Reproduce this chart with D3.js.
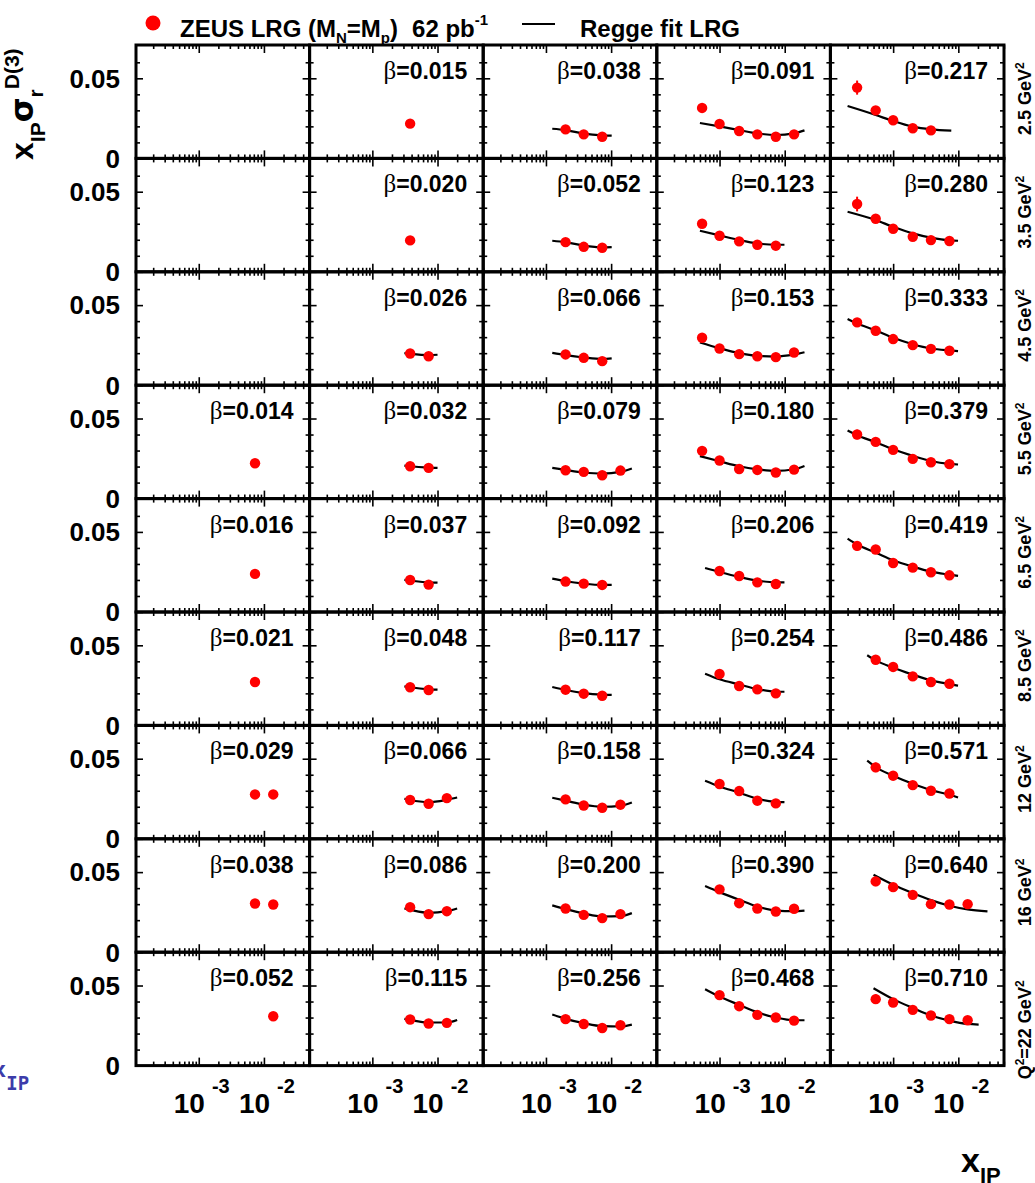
<!DOCTYPE html>
<html>
<head>
<meta charset="utf-8">
<script src="https://cdn.jsdelivr.net/npm/d3@7"></script>
<style>
body { margin: 0; background: #fff; }
text { font-family: "Liberation Sans", Arial, Helvetica, sans-serif; font-weight: bold; }
</style>
</head>
<body>
<div class="canvas"></div>
<script>
// x_IP bins used by the measurement
const xipBins = [0.00028, 0.00054, 0.001, 0.002, 0.0038, 0.0073, 0.0139];

// Q^2 of each row (GeV^2)
const q2Labels = ['2.5', '3.5', '4.5', '5.5', '6.5', '8.5', '12', '16', '22'];

// beta of each panel (null = empty panel)
const betaValues = [
    [null, 0.015, 0.038, 0.091, 0.217],
    [null, 0.020, 0.052, 0.123, 0.280],
    [null, 0.026, 0.066, 0.153, 0.333],
    [0.014, 0.032, 0.079, 0.180, 0.379],
    [0.016, 0.037, 0.092, 0.206, 0.419],
    [0.021, 0.048, 0.117, 0.254, 0.486],
    [0.029, 0.066, 0.158, 0.324, 0.571],
    [0.038, 0.086, 0.200, 0.390, 0.640],
    [0.052, 0.115, 0.256, 0.468, 0.710]
];

// index of the first x_IP bin of each panel
const firstBin = [
    [0, 4, 3, 1, 0],
    [0, 4, 3, 1, 0],
    [0, 4, 3, 1, 0],
    [5, 4, 3, 1, 0],
    [5, 4, 3, 2, 0],
    [5, 4, 3, 2, 1],
    [5, 4, 3, 2, 1],
    [5, 4, 3, 2, 1],
    [6, 4, 3, 2, 1]
];

// x_IP sigma_r^D(3), ZEUS LRG points
const sigmaValues = [
    [[], [0.0217], [0.0181, 0.0150, 0.0135], [0.0315, 0.0215, 0.0171, 0.0150, 0.0135, 0.0150], [0.0442, 0.0300, 0.0238, 0.0188, 0.0175]],
    [[], [0.0196], [0.0185, 0.0156, 0.0150], [0.0300, 0.0225, 0.0190, 0.0169, 0.0163], [0.0423, 0.0331, 0.0269, 0.0219, 0.0198, 0.0192]],
    [[], [0.0198, 0.0181], [0.0192, 0.0171, 0.0150], [0.0296, 0.0229, 0.0194, 0.0181, 0.0175, 0.0204], [0.0392, 0.0340, 0.0288, 0.0250, 0.0227, 0.0215]],
    [[0.0221], [0.0202, 0.0192], [0.0177, 0.0167, 0.0146, 0.0175], [0.0298, 0.0238, 0.0185, 0.0179, 0.0163, 0.0181], [0.0400, 0.0354, 0.0304, 0.0248, 0.0227, 0.0215]],
    [[0.0238], [0.0200, 0.0171], [0.0190, 0.0177, 0.0169], [0.0256, 0.0225, 0.0185, 0.0175], [0.0413, 0.0390, 0.0306, 0.0277, 0.0248, 0.0229]],
    [[0.0271], [0.0238, 0.0221], [0.0223, 0.0198, 0.0185], [0.0321, 0.0246, 0.0225, 0.0200], [0.0410, 0.0365, 0.0306, 0.0271, 0.0260]],
    [[0.0277, 0.0277], [0.0242, 0.0219, 0.0254], [0.0246, 0.0208, 0.0194, 0.0213], [0.0342, 0.0298, 0.0238, 0.0221], [0.0446, 0.0394, 0.0335, 0.0300, 0.0283]],
    [[0.0304, 0.0298], [0.0281, 0.0238, 0.0256], [0.0273, 0.0233, 0.0213, 0.0238], [0.0392, 0.0306, 0.0273, 0.0254, 0.0271], [0.0442, 0.0406, 0.0358, 0.0300, 0.0298, 0.0300]],
    [[0.0308], [0.0288, 0.0263, 0.0267], [0.0290, 0.0260, 0.0235, 0.0252], [0.0440, 0.0371, 0.0317, 0.0300, 0.0281], [0.0415, 0.0394, 0.0348, 0.0313, 0.0290, 0.0283]]
];

// errors: only the lowest-x_IP point of the last column shows a bar
const errLastColumn = [0.0044, 0.0046, 0.0025, 0.0030, 0.0030, 0.0025, 0.0030, 0.0030, 0.0030];
const errDefault = 0.0015;

// Regge fit curves, [x_IP, value] nodes
const fitCurves = [
    [null, null,
     [[0.00125, 0.0185], [0.002, 0.0177], [0.0038, 0.0155], [0.0073, 0.0144], [0.0102, 0.0142]],
     [[0.0005, 0.0221], [0.001, 0.0200], [0.002, 0.0177], [0.0038, 0.0156], [0.0073, 0.0146], [0.0139, 0.0156], [0.0201, 0.0175]],
     [[0.0002, 0.0327], [0.00054, 0.0271], [0.001, 0.0233], [0.002, 0.0198], [0.0038, 0.0181], [0.0078, 0.0173]]],
    [null, null,
     [[0.00125, 0.0194], [0.002, 0.0185], [0.0038, 0.0163], [0.0073, 0.0152], [0.0102, 0.0154]],
     [[0.0005, 0.0256], [0.001, 0.0227], [0.002, 0.0198], [0.0038, 0.0177], [0.0073, 0.0169], [0.0099, 0.0169]],
     [[0.0002, 0.0375], [0.00054, 0.0323], [0.001, 0.0281], [0.002, 0.0240], [0.0038, 0.0213], [0.0073, 0.0196], [0.0099, 0.0194]]],
    [null,
     [[0.0031, 0.0200], [0.0038, 0.0196], [0.0073, 0.0188], [0.010, 0.0190]],
     [[0.00125, 0.0202], [0.002, 0.0188], [0.0038, 0.0173], [0.0073, 0.0163], [0.0102, 0.0167]],
     [[0.0005, 0.0267], [0.001, 0.0231], [0.002, 0.0200], [0.0038, 0.0183], [0.0073, 0.0179], [0.0139, 0.0192], [0.0201, 0.0206]],
     [[0.0002, 0.0413], [0.00028, 0.0385], [0.00054, 0.0342], [0.001, 0.0296], [0.002, 0.0256], [0.0038, 0.0229], [0.0073, 0.0217], [0.0099, 0.0213]]],
    [null,
     [[0.0031, 0.0206], [0.0038, 0.0202], [0.0073, 0.0194], [0.010, 0.0192]],
     [[0.00125, 0.0192], [0.002, 0.0179], [0.0038, 0.0163], [0.0073, 0.0156], [0.0139, 0.0167], [0.0208, 0.0188]],
     [[0.0005, 0.0265], [0.001, 0.0233], [0.002, 0.0202], [0.0038, 0.0183], [0.0073, 0.0173], [0.0139, 0.0183], [0.0201, 0.0204]],
     [[0.0002, 0.0425], [0.00028, 0.0396], [0.00054, 0.0352], [0.001, 0.0308], [0.002, 0.0267], [0.0038, 0.0235], [0.0073, 0.0217], [0.0099, 0.0213]]],
    [null,
     [[0.0031, 0.0200], [0.0038, 0.0196], [0.0073, 0.0185], [0.010, 0.0183]],
     [[0.00125, 0.0208], [0.002, 0.0192], [0.0038, 0.0177], [0.0073, 0.0169], [0.0102, 0.0169]],
     [[0.0006, 0.0275], [0.001, 0.0250], [0.002, 0.0219], [0.0038, 0.0196], [0.0073, 0.0185], [0.0099, 0.0185]],
     [[0.0002, 0.0458], [0.00028, 0.0421], [0.00054, 0.0371], [0.001, 0.0323], [0.002, 0.0283], [0.0038, 0.0252], [0.0073, 0.0233], [0.0099, 0.0225]]],
    [null,
     [[0.0031, 0.0244], [0.0038, 0.0238], [0.0073, 0.0225], [0.010, 0.0223]],
     [[0.00125, 0.0240], [0.002, 0.0221], [0.0038, 0.0202], [0.0073, 0.0192], [0.0102, 0.0190]],
     [[0.0006, 0.0323], [0.001, 0.0288], [0.002, 0.0256], [0.0038, 0.0227], [0.0073, 0.0210], [0.0099, 0.0210]],
     [[0.0004, 0.0438], [0.00054, 0.0406], [0.001, 0.0360], [0.002, 0.0317], [0.0038, 0.0281], [0.0073, 0.0258], [0.0099, 0.0248]]],
    [null,
     [[0.0031, 0.0250], [0.0038, 0.0242], [0.0073, 0.0229], [0.0139, 0.0244], [0.020, 0.0258]],
     [[0.00125, 0.0256], [0.002, 0.0238], [0.0038, 0.0213], [0.0073, 0.0200], [0.0139, 0.0206], [0.0208, 0.0227]],
     [[0.0006, 0.0363], [0.001, 0.0327], [0.002, 0.0288], [0.0038, 0.0250], [0.0073, 0.0231], [0.0099, 0.0229]],
     [[0.0004, 0.0488], [0.00054, 0.0448], [0.001, 0.0394], [0.002, 0.0344], [0.0038, 0.0304], [0.0073, 0.0275], [0.0099, 0.0258]]],
    [null,
     [[0.0031, 0.0273], [0.0038, 0.0265], [0.0073, 0.0246], [0.0139, 0.0256], [0.020, 0.0273]],
     [[0.00125, 0.0292], [0.002, 0.0269], [0.0038, 0.0242], [0.0073, 0.0223], [0.0139, 0.0225], [0.0208, 0.0244]],
     [[0.0006, 0.0413], [0.001, 0.0375], [0.002, 0.0327], [0.0038, 0.0285], [0.0073, 0.0260], [0.0139, 0.0256], [0.0201, 0.0260]],
     [[0.0005, 0.0483], [0.001, 0.0421], [0.002, 0.0369], [0.0038, 0.0325], [0.0073, 0.0290], [0.0139, 0.0267], [0.028, 0.0255]]],
    [null,
     [[0.0031, 0.0292], [0.0038, 0.0285], [0.0073, 0.0269], [0.0139, 0.0269], [0.020, 0.0285]],
     [[0.00125, 0.0319], [0.002, 0.0292], [0.0038, 0.0265], [0.0073, 0.0246], [0.0139, 0.0244], [0.0208, 0.0256]],
     [[0.0006, 0.0477], [0.001, 0.0431], [0.002, 0.0379], [0.0038, 0.0333], [0.0073, 0.0300], [0.0139, 0.0283], [0.0201, 0.0283]],
     [[0.0005, 0.0483], [0.001, 0.0415], [0.002, 0.0360], [0.0038, 0.0313], [0.0073, 0.0281], [0.0139, 0.0260], [0.0205, 0.0256]]]
];

const xMajor = [1e-3, 1e-2];
const xTickLabels = ['-3', '-2'];
const yMajor = [0, 0.05];
const yTickLabels = ['0', '0.05'];

// layout
const width = 1035, height = 1183;
const margin = { top: 45, left: 136 };
const cellW = 173.6, cellH = 113.4;
const red = '#ff0000';

const svg = d3.select('.canvas')
    .append('svg')
    .attr('width', width)
    .attr('height', height);

svg.append('rect').attr('width', width).attr('height', height).attr('fill', '#fff');

// scales (same for every panel)
const x = d3.scaleLog().domain([1.09e-4, 0.0502]).range([0, cellW]);
const y = d3.scaleLinear().domain([0, 0.0708]).range([cellH, 0]);

const xMinor = x.ticks().filter(t => !xMajor.some(m => Math.abs(m - t) < 1e-9));
const yMinor = y.ticks(7).filter(t => t > 0.001 && t < 0.069 && Math.abs(t - 0.05) > 0.001);

const line = d3.line()
    .curve(d3.curveMonotoneX)
    .x(d => x(d[0]))
    .y(d => y(d[1]));

const noDomain = g => g.select('.domain').remove();

const drawTicks = (g) => {
    const defs = [
        [d3.axisBottom(x).tickValues(xMajor).tickSize(-8), `translate(0,${cellH})`],
        [d3.axisBottom(x).tickValues(xMinor).tickSize(-4), `translate(0,${cellH})`],
        [d3.axisTop(x).tickValues(xMajor).tickSize(-8), 'translate(0,0)'],
        [d3.axisTop(x).tickValues(xMinor).tickSize(-4), 'translate(0,0)'],
        [d3.axisLeft(y).tickValues(yMajor).tickSize(-7), 'translate(0,0)'],
        [d3.axisLeft(y).tickValues(yMinor).tickSize(-4), 'translate(0,0)'],
        [d3.axisRight(y).tickValues(yMajor).tickSize(-7), `translate(${cellW},0)`],
        [d3.axisRight(y).tickValues(yMinor).tickSize(-4), `translate(${cellW},0)`]
    ];
    defs.forEach(([axis, tr]) => {
        g.append('g')
            .attr('transform', tr)
            .call(axis.tickFormat(''))
            .call(noDomain)
            .selectAll('line')
            .attr('stroke', '#000')
            .attr('stroke-width', 1.6);
    });
};

q2Labels.forEach((q2, r) => {
    betaValues[r].forEach((beta, c) => {
        const g = svg.append('g')
            .attr('transform', `translate(${margin.left + c * cellW}, ${margin.top + r * cellH})`);

        drawTicks(g);

        // fit curve
        const fit = fitCurves[r][c];
        if (fit) {
            g.append('path')
                .datum(fit)
                .attr('fill', 'none')
                .attr('stroke', '#000')
                .attr('stroke-width', 2.2)
                .attr('d', line);
        }

        // points
        const pts = sigmaValues[r][c].map((v, i) => ({
            xip: xipBins[firstBin[r][c] + i],
            v: v,
            e: (c === 4 && i === 0) ? errLastColumn[r] : errDefault
        }));

        g.selectAll('line.err')
            .data(pts)
            .enter()
            .append('line')
            .attr('class', 'err')
            .attr('x1', d => x(d.xip))
            .attr('x2', d => x(d.xip))
            .attr('y1', d => y(d.v - d.e))
            .attr('y2', d => y(d.v + d.e))
            .attr('stroke', red)
            .attr('stroke-width', 2);

        g.selectAll('circle')
            .data(pts)
            .enter()
            .append('circle')
            .attr('cx', d => x(d.xip))
            .attr('cy', d => y(d.v))
            .attr('r', 5.2)
            .attr('fill', red);

        // beta label
        if (beta !== null) {
            const t = g.append('text')
                .attr('x', cellW - 16)
                .attr('y', 34)
                .attr('text-anchor', 'end')
                .style('font-size', '23px');
            t.append('tspan')
                .style('font-family', '"Liberation Serif", "DejaVu Serif", serif')
                .style('font-weight', 'normal')
                .style('font-size', '25px')
                .text('β');
            t.append('tspan').text('=' + beta.toFixed(3));
        }

        // frame
        g.append('rect')
            .attr('width', cellW)
            .attr('height', cellH)
            .attr('fill', 'none')
            .attr('stroke', '#000')
            .attr('stroke-width', 3);

        // y tick labels on the first column
        if (c === 0) {
            yMajor.forEach((v, i) => {
                g.append('text')
                    .attr('x', -16)
                    .attr('y', y(v))
                    .attr('dy', '0.36em')
                    .attr('text-anchor', 'end')
                    .style('font-size', '26px')
                    .text(yTickLabels[i]);
            });
        }

        // x tick labels on the last row
        if (r === q2Labels.length - 1) {
            xMajor.forEach((v, i) => {
                const t = g.append('text')
                    .attr('x', x(v) + 3)
                    .attr('y', cellH + 47)
                    .attr('text-anchor', 'middle')
                    .style('font-size', '28px');
                t.append('tspan').text('10');
                t.append('tspan')
                    .attr('dx', 7)
                    .attr('dy', -20)
                    .style('font-size', '20px')
                    .text(xTickLabels[i]);
            });
        }

        // Q^2 label on the right
        if (c === 4) {
            const last = r === q2Labels.length - 1;
            const t = g.append('text')
                .attr('transform', `translate(${cellW + 27}, ${cellH / 2 + (last ? 21 : -3)}) rotate(-90)`)
                .attr('text-anchor', 'middle')
                .style('font-size', '18px');
            if (last) {
                t.append('tspan').text('Q');
                t.append('tspan').attr('dy', -7).style('font-size', '12px').text('2');
                t.append('tspan').attr('dy', 7).text('=' + q2 + ' GeV');
            } else {
                t.append('tspan').text(q2 + ' GeV');
            }
            t.append('tspan').attr('dy', -7).style('font-size', '12px').text('2');
        }
    });
});

// legend
svg.append('circle').attr('cx', 153).attr('cy', 23).attr('r', 7.5).attr('fill', red);
const leg = svg.append('text').attr('x', 180).attr('y', 37).style('font-size', '24px');
leg.append('tspan').text('ZEUS LRG (M');
leg.append('tspan').attr('dy', 6).style('font-size', '15px').text('N');
leg.append('tspan').attr('dy', -6).text('=M');
leg.append('tspan').attr('dy', 6).style('font-size', '15px').text('p');
leg.append('tspan').attr('dy', -6).text(')');
leg.append('tspan').attr('dx', 14).text('62 pb');
leg.append('tspan').attr('dy', -12).style('font-size', '15px').text('-1');

svg.append('line')
    .attr('x1', 522).attr('x2', 555)
    .attr('y1', 24).attr('y2', 24)
    .attr('stroke', '#000').attr('stroke-width', 2);
svg.append('text').attr('x', 580).attr('y', 37).style('font-size', '24px').text('Regge fit LRG');

// y axis title
const yt = svg.append('text')
    .attr('transform', 'translate(33, 160) rotate(-90)')
    .style('font-size', '32px');
yt.append('tspan').text('x');
yt.append('tspan').attr('dy', 12).style('font-size', '21px').text('IP');
yt.append('tspan').attr('dy', -12)
    .style('font-family', '"DejaVu Sans", sans-serif')
    .text('σ');
yt.append('tspan').attr('dy', 10).style('font-size', '21px').text('r');
yt.append('tspan').attr('dy', -24).style('font-size', '21px').text('D(3)');

// x axis title
const xt = svg.append('text').attr('x', 961).attr('y', 1172).style('font-size', '34px');
xt.append('tspan').text('x');
xt.append('tspan').attr('dy', 11).style('font-size', '22px').text('IP');

// stray blue label at the lower left edge
const bl = svg.append('text')
    .attr('x', -7).attr('y', 1077)
    .attr('fill', '#3c3caa')
    .style('font-family', '"DejaVu Sans Mono", monospace')
    .style('font-size', '22px');
bl.append('tspan').text('x');
bl.append('tspan').attr('dy', 13).style('font-size', '19px').text('IP');
</script>
</body>
</html>
